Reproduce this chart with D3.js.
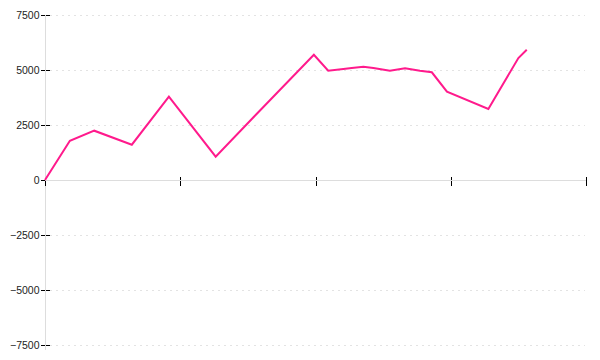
<!DOCTYPE html>
<html>
<head>
    <meta charset="UTF-8">
    <title>line</title>
    <script src="https://d3js.org/d3.v7.min.js"></script>
    <style>
        body {
            margin: 0;
            background: #fff;
        }

        svg {
            display: block;
        }

        .tick text {
            font-family: "Liberation Sans", Arial, sans-serif;
            font-size: 10.5px;
            fill: #222;
        }

        .tick line {
            shape-rendering: crispEdges;
        }
    </style>
</head>
<body>
<svg id="chart" width="600" height="360"></svg>
<script>
    // 数据
    const xValues = [0, 0.92, 1.82, 3.21, 4.58, 6.31, 7.76, 9.94, 10.47, 11.03, 11.34, 11.77, 12.14, 12.75, 13.31, 13.86, 14.30, 14.86, 16.39, 17.50, 17.81];
    const yValues = [0, 1786, 2241, 1605, 3786, 1059, 2923, 5695, 4968, 5045, 5090, 5150, 5090, 4968, 5077, 4968, 4895, 4013, 3227, 5545, 5923];
    const yTicks = [-7500, -5000, -2500, 0, 2500, 5000, 7500];
    const xTicks = [0, 5, 10, 15, 20];

    const data = xValues.map((x, i) => ({ x: x, y: yValues[i] }));

    const svg = d3.select("#chart");

    const x = d3.scaleLinear()
        .domain([0, 20])
        .range([45, 586]);

    const y = d3.scaleLinear()
        .domain([-7500, 7500])
        .range([345, 15]);

    // 网格线
    svg.append("g")
        .selectAll("line")
        .data(yTicks)
        .join("line")
        .attr("x1", 50)
        .attr("x2", 585)
        .attr("y1", d => y(d) + 0.5)
        .attr("y2", d => y(d) + 0.5)
        .attr("stroke", "#e3e3e3")
        .attr("stroke-dasharray", "2,4");

    // y 轴
    const yAxis = svg.append("g")
        .attr("transform", "translate(45.5,0)")
        .call(d3.axisLeft(y).tickValues(yTicks).tickFormat(d3.format("d")).tickSize(5).tickPadding(1));
    yAxis.select(".domain").remove();
    yAxis.selectAll(".tick line")
        .attr("x1", -5)
        .attr("x2", 4)
        .attr("stroke", "#000");

    svg.append("line")
        .attr("x1", 45.5)
        .attr("x2", 45.5)
        .attr("y1", y(7500))
        .attr("y2", y(-7500) + 5)
        .attr("stroke", "#ddd");

    // x 轴
    const xAxis = svg.append("g")
        .attr("transform", `translate(0,${y(0) + 0.5})`)
        .call(d3.axisBottom(x).tickValues(xTicks).tickFormat(""));
    xAxis.select(".domain").remove();
    xAxis.selectAll(".tick line")
        .attr("y1", d => d === 0 ? 0 : -4)
        .attr("y2", 5)
        .attr("stroke", "#000");

    svg.append("line")
        .attr("x1", x(0))
        .attr("x2", x(20))
        .attr("y1", y(0) + 0.5)
        .attr("y2", y(0) + 0.5)
        .attr("stroke", "#ddd");

    // 折线
    svg.append("path")
        .datum(data)
        .attr("fill", "none")
        .attr("stroke", "#ff1a8c")
        .attr("stroke-width", 2)
        .attr("d", d3.line()
            .x(d => x(d.x))
            .y(d => y(d.y))
        );
</script>
</body>
</html>
